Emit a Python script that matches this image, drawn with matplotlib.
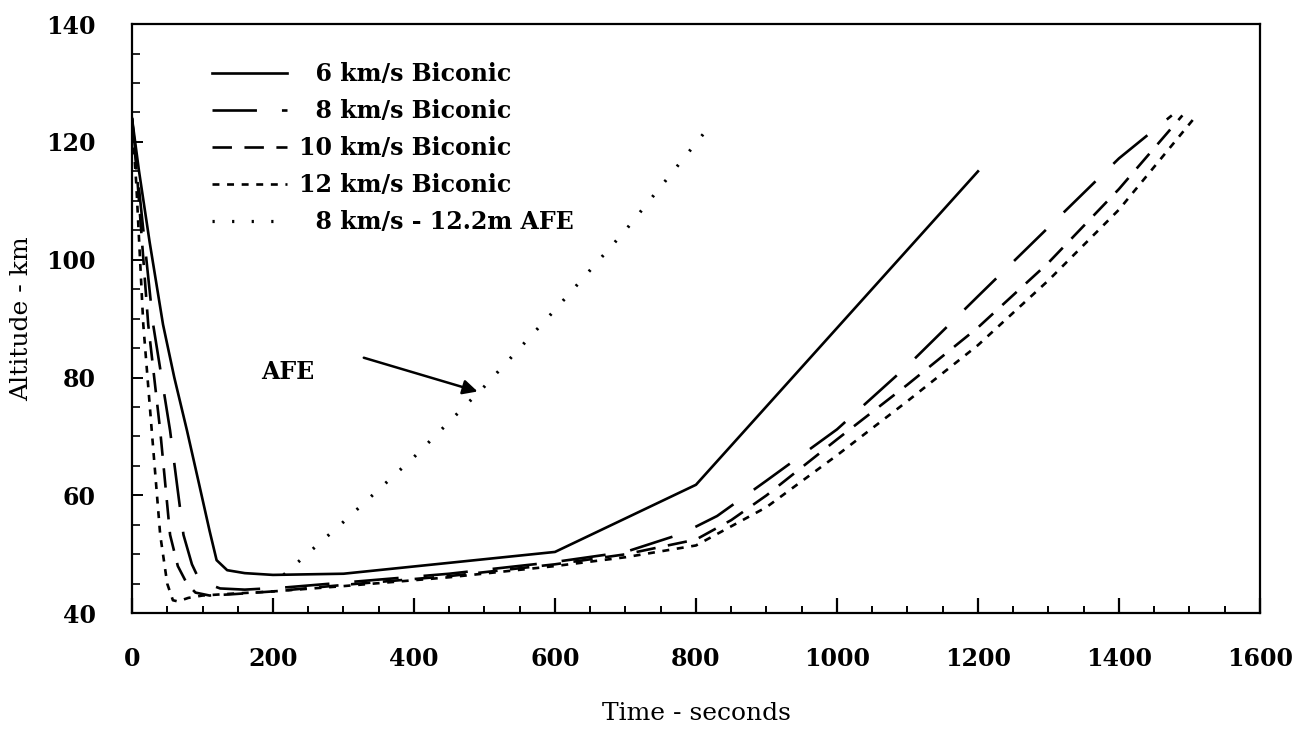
import matplotlib
matplotlib.use('Agg')
import matplotlib.pyplot as plt
import numpy as np
from matplotlib.ticker import MultipleLocator

plt.rcParams['font.family'] = 'DejaVu Serif'
plt.rcParams['lines.scale_dashes'] = False

# trajectory data (time in s, altitude in km)
t_6 = [0, 10, 25, 44, 60, 78, 95, 110, 120, 135, 160, 200, 300, 600, 800, 1200]
h_6 = [124, 115, 103, 89, 80, 71, 62, 54, 49, 47.3, 46.8, 46.5, 46.7, 50.4, 61.8, 115]

t_8 = [0, 10, 30, 54, 73, 85, 96, 125, 160, 220, 310, 450, 600, 700, 780, 830, 900,
       1000, 1100, 1200, 1300, 1400, 1475]
h_8 = [124, 112, 89, 71, 53.3, 48.3, 45.5, 44.2, 44.0, 44.4, 45.3, 46.7, 48.7, 50.4,
       53.5, 56.5, 62.5, 71.2, 82.0, 93.8, 105.5, 117.2, 124.5]

t_10 = [0, 8, 23, 40, 54, 65, 78, 90, 110, 140, 200, 300, 450, 600, 700, 800, 850,
        900, 1000, 1100, 1200, 1300, 1400, 1490]
h_10 = [124, 113, 89, 71, 53.3, 48, 45, 43.5, 43, 43.2, 43.7, 44.8, 46.3, 48.3, 50,
        52.5, 55.8, 60, 69.5, 78.8, 88.5, 99.5, 112, 124.5]

t_12 = [0, 6, 16, 28, 40, 50, 58, 65, 80, 100, 140, 200, 300, 450, 600, 700, 800,
        900, 1000, 1100, 1200, 1300, 1400, 1510]
h_12 = [124, 113, 89, 71, 53.3, 45, 42.2, 42, 42.6, 43, 43.3, 43.7, 44.6, 46.1, 48,
        49.5, 51.5, 58, 66.8, 76, 85.5, 96.5, 108.5, 124.5]

t_afe = [215, 300, 400, 500, 600, 700, 825]
h_afe = [46.5, 55.5, 66.5, 78.5, 91.5, 105, 123.5]

labels = ['\u20076 km/s Biconic', '\u20078 km/s Biconic', '10 km/s Biconic',
          '12 km/s Biconic', '\u20078 km/s - 12.2m AFE']

fig = plt.figure(figsize=(13.07, 7.30), dpi=100)
ax = fig.add_axes([0.101, 0.160, 0.863, 0.807])

lw = 1.9
ax.plot(t_6, h_6, color='k', lw=lw, label=labels[0])
ax.plot(t_8, h_8, color='k', lw=lw, linestyle=(0, (32, 18)), label=labels[1])
ax.plot(t_10, h_10, color='k', lw=lw, linestyle=(0, (14, 9)), label=labels[2])
ax.plot(t_12, h_12, color='k', lw=lw, linestyle=(0, (5, 5.5)), label=labels[3])
ax.plot(t_afe, h_afe, color='k', lw=2.3, linestyle=(0, (1.6, 12.5)), label=labels[4])

ax.text(183, 81, 'AFE', fontsize=17, fontweight='bold', va='center', ha='left')
ax.annotate('', xy=(494, 77.5), xytext=(325, 83.5),
            arrowprops=dict(arrowstyle='-|>', lw=1.8, color='k', mutation_scale=22))

ax.set_xlim(0, 1600)
ax.set_ylim(40, 140)
ax.xaxis.set_major_locator(MultipleLocator(200))
ax.xaxis.set_minor_locator(MultipleLocator(50))
ax.yaxis.set_major_locator(MultipleLocator(20))
ax.yaxis.set_minor_locator(MultipleLocator(5))
ax.tick_params(axis='x', which='major', direction='in', length=11, width=1.6, pad=24,
               labelsize=17)
ax.tick_params(axis='x', which='minor', direction='in', length=5, width=1.4)
ax.tick_params(axis='y', which='major', direction='in', length=8, width=1.4, pad=26,
               labelsize=17)
ax.tick_params(axis='y', which='minor', direction='in', length=6, width=1.2)
for lab in ax.get_xticklabels() + ax.get_yticklabels():
    lab.set_fontweight('bold')
for s in ax.spines.values():
    s.set_linewidth(1.6)

ax.set_xlabel('Time - seconds', fontsize=18)
ax.set_ylabel('Altitude - km', fontsize=18)
ax.xaxis.set_label_coords(0.5, -0.150)
ax.yaxis.set_label_coords(-0.088, 0.5)

leg = ax.legend(loc='upper left', bbox_to_anchor=(0.052, 0.972), frameon=False,
                handlelength=3.2, handletextpad=0.5, labelspacing=0.55,
                prop={'size': 17, 'weight': 'bold'})

fig.savefig('out.png', dpi=100)
